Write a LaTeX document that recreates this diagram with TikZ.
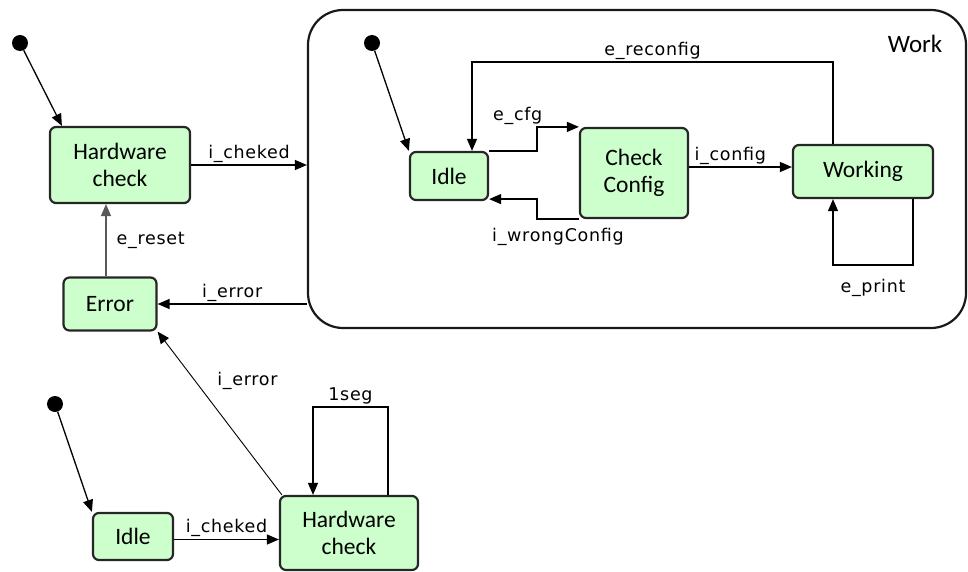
\documentclass[tikz,border=0pt]{standalone}
\usepackage{fontspec}
\setmainfont{Carlito}
\newfontfamily\lblfont[LetterSpace=4]{DejaVu Sans}
\usetikzlibrary{arrows.meta,positioning}
\definecolor{stategreen}{HTML}{CCFFCC}

\begin{document}
\begin{tikzpicture}[
    x=1pt, y=-1pt,
    statebox/.style={rectangle, rounded corners=6pt, draw=black!85, line width=2.2pt, fill=stategreen, align=center, inner sep=0pt, font=\fontsize{23.5}{27}\selectfont},
    superbox/.style={rectangle, rounded corners=35pt, draw=black!90, line width=2.2pt},
    initdot/.style={circle, fill=black, minimum size=16pt, inner sep=0pt},
    lbl/.style={font=\lblfont\fontsize{17.5}{20}\selectfont, inner sep=2pt},
    trans/.style={-{Triangle[length=12pt, width=10pt]}, line width=1.3pt, draw=black}
]
\useasboundingbox (0,0) rectangle (968,572);

% === MAIN MACHINE (top left) ===
\node[initdot] (start-main) at (20,43) {};
\node[statebox, minimum width=140pt, minimum height=76pt] (hwcheck) at (120,165) {Hardware\\check};
\node[statebox, minimum width=93pt, minimum height=53pt] (error) at (110,304) {Error};

% === WORK SUPERSTATE ===
\node[superbox, minimum width=658pt, minimum height=318pt] (work) at (637,169) {};
\node[font=\fontsize{25}{28}\selectfont] (work-label) at (915,44) {Work};
\node[initdot] (start-work) at (372,43) {};
\node[statebox, minimum width=78pt, minimum height=48pt] (idle) at (449,176) {Idle};
\node[statebox, minimum width=108pt, minimum height=90pt] (chkcfg) at (634,173) {Check\\Config};
\node[statebox, minimum width=140pt, minimum height=53pt] (working) at (863,171.5) {Working};

% === TEST MACHINE (bottom) ===
\node[initdot] (start-test) at (55,404) {};
\node[statebox, minimum width=80pt, minimum height=47pt] (idle-test) at (133,536.5) {Idle};
\node[statebox, minimum width=138pt, minimum height=74pt] (hwcheck-test) at (349,533) {Hardware\\check};

% routing helpers
\coordinate (reconf-y) at (0,62);
\coordinate (cfg-x) at (537,0);
\coordinate (print-y) at (0,265);
\coordinate (tick-y) at (0,407);

% === Transitions ===
\draw[trans] (start-main) -- ([xshift=13pt]hwcheck.north west);
\draw[trans] (hwcheck.east) -- (hwcheck.east -| work.west) node[lbl, midway, above] {i\_cheked};
\draw[trans, draw=black!65] ([xshift=-4pt]error.north) -- ([xshift=-4pt]error.north |- hwcheck.south) node[lbl, midway, right=8pt] {e\_reset};
\draw[trans] (work.west |- error.east) -- (error.east) node[lbl, midway, above] {i\_error};

% inside Work
\draw[trans] (start-work) -- (idle.north west);
\draw[trans] ([xshift=-30pt]working.north) -- ([xshift=-30pt]working.north |- reconf-y) -| ([xshift=23pt]idle.north) node[lbl, pos=0.25, above] {e\_reconfig};
\draw[trans] (idle.north east) -- (idle.north east -| cfg-x) |- (chkcfg.north west) node[lbl, pos=0.5, anchor=south east, xshift=8pt] {e\_cfg};
\draw[trans] (chkcfg.south west) -- node[lbl, below=6pt] {i\_wrongConfig} (chkcfg.south west -| cfg-x) |- ([yshift=2pt]idle.south east);
\draw[trans] ([yshift=6pt]chkcfg.east) -- ([yshift=6pt]chkcfg.east -| working.west) node[lbl, pos=0.4, above] {i\_config};
\draw[trans] ([xshift=50pt]working.south) -- ([xshift=50pt]working.south |- print-y) -| ([xshift=-30pt]working.south) node[lbl, pos=0.25, below=12pt] {e\_print};

% test machine
\draw[trans] (start-test) -- (idle-test.north west);
\draw[trans] ([yshift=-3pt]idle-test.east) -- ([yshift=-3pt]idle-test.east -| hwcheck-test.west) node[lbl, midway, above] {i\_cheked};
\draw[trans] ([xshift=39pt]hwcheck-test.north) -- ([xshift=39pt]hwcheck-test.north |- tick-y) -| ([xshift=-36pt]hwcheck-test.north) node[lbl, pos=0.25, above] {1seg};
\draw[trans, line width=0.9pt] ([xshift=3pt]hwcheck-test.north west) -- (error.south east) node[lbl, pos=0.7, right=20pt] {i\_error};

\end{tikzpicture}
\end{document}
